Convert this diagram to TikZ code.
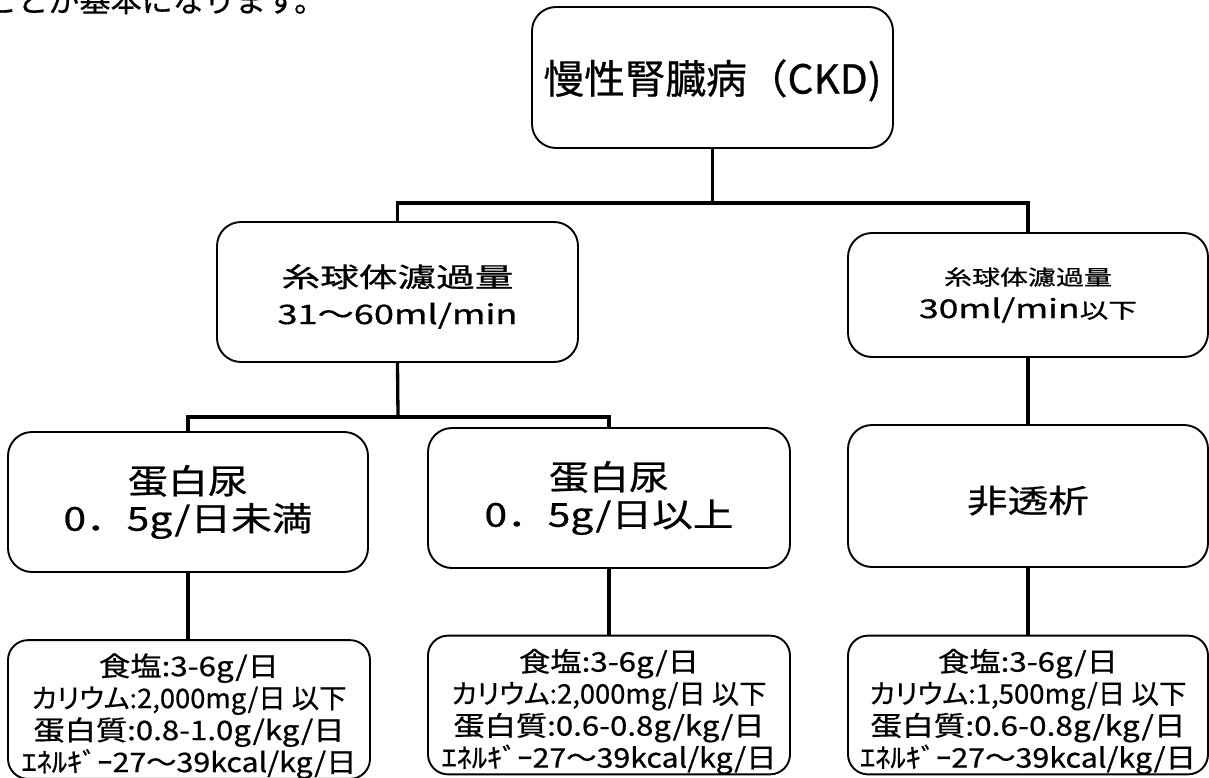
\documentclass[tikz,border=0pt]{standalone}
\usepackage{fontspec}
\setmainfont{Noto Sans CJK JP}[FakeBold=0.6]
\newfontfamily\pk{Noto Sans CJK JP}[RawFeature=+palt,FakeBold=0.6]
\newcommand\fitw[2]{\resizebox{#1pt}{\height}{#2}}
\newcommand\fsz[1]{\fontsize{#1}{#1}\selectfont}
\newcommand\topstrut[1]{\rule{0pt}{#1pt}}
\begin{document}
\begin{tikzpicture}[x=1pt,y=-1pt,
  box/.style={draw, line width=1.9pt, rounded corners=24pt, align=center, inner sep=0pt, fill=white},
  sbox/.style={box, rounded corners=20pt},
  conn/.style={line width=3.3pt}]
\useasboundingbox (0,0) rectangle (1209,778);
\fill[white] (0,0) rectangle (1209,778);
\begin{scope}
\clip (0,0) rectangle (1209,778);
\node[anchor=base west, inner sep=0pt] (intro) at (-14,12) {\fitw{339}{\fsz{30}ことが基本になります。}};
\end{scope}

\node[box, minimum width=361pt, minimum height=141pt, font=\fontsize{40}{48}\selectfont] (ckd) at (712.5,77.5) {\fitw{338}{\topstrut{40}慢性腎臓病（CKD)}};

\node[box, minimum width=361pt, minimum height=140pt, font=\fontsize{27}{37}\selectfont] (gfr1) at (397.5,292)
  {\fitw{232}{\topstrut{32}糸球体濾過量}\\\fitw{240}{31〜60ml/min}};
\node[box, minimum width=360pt, minimum height=124pt, font=\fontsize{21}{33}\selectfont] (gfr2) at (1028,295)
  {\fitw{168}{糸球体濾過量}\\\fitw{218}{{\fsz{26}30ml/min}{\fsz{21}以下}}};

\node[box, minimum width=360pt, minimum height=140pt, font=\fontsize{33}{37}\selectfont] (p1) at (188,502)
  {\fitw{120}{\fsz{34}蛋白尿}\\\fitw{249}{0．5g/日未満}};
\node[box, minimum width=362pt, minimum height=140pt, font=\fontsize{33}{37}\selectfont] (p2) at (609,498)
  {\fitw{120}{\fsz{34}蛋白尿}\\\fitw{249}{0．5g/日以上}};
\node[box, minimum width=360pt, minimum height=142pt, font=\fontsize{32}{37}\selectfont] (nd) at (1028,496)
  {\fitw{122}{\topstrut{36}非透析}};

\node[sbox, minimum width=362pt, minimum height=135pt, font=\fontsize{27}{30}\selectfont] (d1) at (189,709.5)
  {\fitw{180}{\topstrut{36}食塩:3-6g/日}\\[2pt]\fitw{315}{{\pk カリウム}:2,000mg/日 以下}\\[2pt]\fitw{311}{蛋白質:0.8-1.0g/kg/日}\\[2pt]\fitw{335}{ｴﾈﾙｷﾞｰ27〜39kcal/kg/日}};
\node[sbox, minimum width=362pt, minimum height=134pt, font=\fontsize{27}{30}\selectfont] (d2) at (609,705)
  {\fitw{180}{\topstrut{36}食塩:3-6g/日}\\[2pt]\fitw{315}{{\pk カリウム}:2,000mg/日 以下}\\[2pt]\fitw{311}{蛋白質:0.6-0.8g/kg/日}\\[2pt]\fitw{335}{ｴﾈﾙｷﾞｰ27〜39kcal/kg/日}};
\node[sbox, minimum width=360pt, minimum height=136pt, font=\fontsize{27}{30}\selectfont] (d3) at (1028,705)
  {\fitw{180}{\topstrut{36}食塩:3-6g/日}\\[2pt]\fitw{317}{{\pk カリウム}:1,500mg/日 以下}\\[2pt]\fitw{315}{蛋白質:0.6-0.8g/kg/日}\\[2pt]\fitw{336}{ｴﾈﾙｷﾞｰ27〜39kcal/kg/日}};

\coordinate (b1) at (712.5,203);
\coordinate (b2) at (398,417);
\draw[conn] (ckd.south) -- (b1);
\draw[conn] (gfr1.north) |- (b1) -| (gfr2.north);
\draw[conn] (gfr1.south) -- (b2);
\draw[conn] (p1.north) |- (b2) -| (p2.north);
\draw[conn] (gfr2.south) -- (nd.north);
\draw[conn] (p1.south) -- (p1.south |- d1.north);
\draw[conn] (p2.south) -- (d2.north);
\draw[conn] (nd.south) -- (d3.north);
\end{tikzpicture}
\end{document}
